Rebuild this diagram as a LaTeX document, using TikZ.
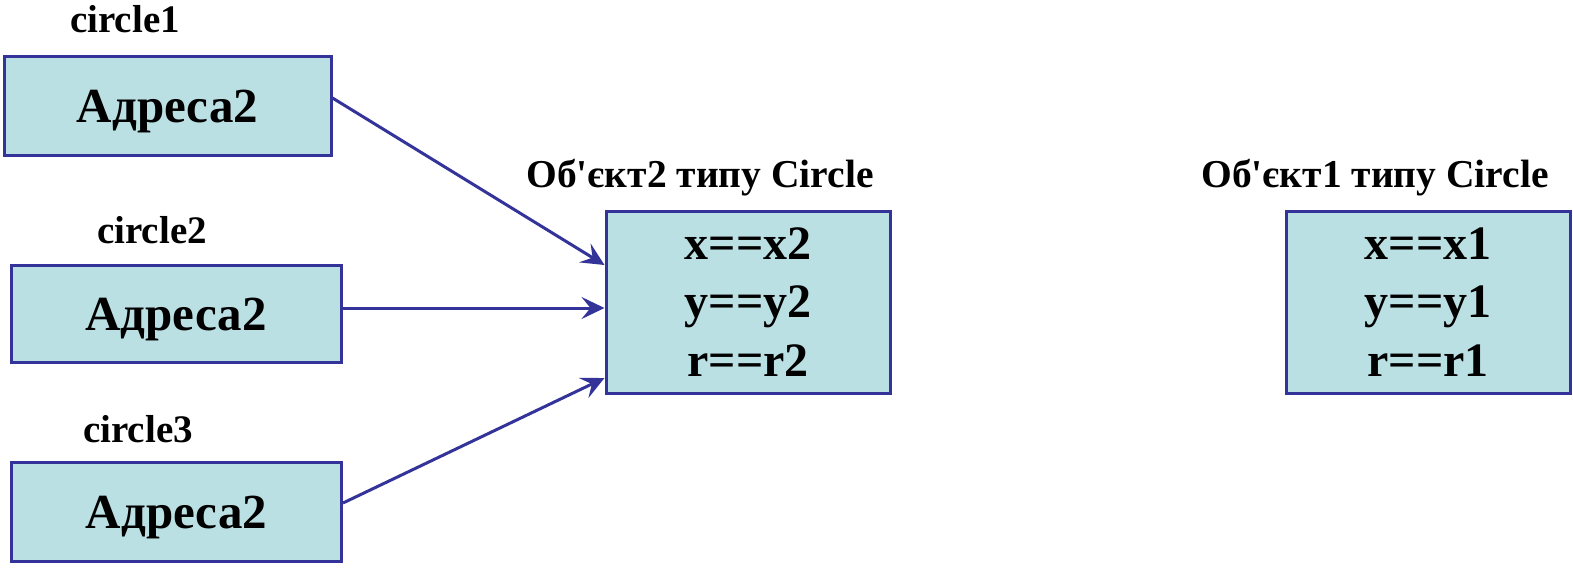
\documentclass[tikz,border=0pt]{standalone}
\usepackage{fontspec}
\setmainfont{Liberation Serif}
\usetikzlibrary{arrows.meta}
\definecolor{edge}{HTML}{333399}
\definecolor{fillc}{HTML}{BBE0E3}
\tikzset{
  addrbox/.style={draw=edge, fill=fillc, line width=3pt, minimum width=#1, inner sep=0pt,
    text height=33pt, text depth=0pt, font=\bfseries\fontsize{49}{52}\selectfont},
  objbox/.style={draw=edge, fill=fillc, line width=3pt, minimum width=284pt, minimum height=182pt,
    inner sep=0pt, align=center, font=\bfseries\fontsize{48}{58.5}\selectfont},
  lbl/.style={inner sep=0pt, anchor=base, font=\bfseries\fontsize{39}{42}\selectfont},
  titl/.style={inner sep=0pt, anchor=base, font=\bfseries\fontsize{39.5}{42}\selectfont},
  link/.style={draw=edge, line width=3pt, -{Stealth[length=23pt,width=22pt,inset=9pt]}}
}
\begin{document}
\begin{tikzpicture}[x=1pt,y=-1pt]
\useasboundingbox (0,0) rectangle (1573,568);
\node[addrbox=327pt, minimum height=99pt] (b1) at (167.5,105.5) {Адреса2};
\node[addrbox=330pt, minimum height=97pt] (b2) at (176,313.5) {Адреса2};
\node[addrbox=330pt, minimum height=99pt] (b3) at (176.5,511.5) {Адреса2};
\node[lbl] (l1) at (125,32) {circle1};
\node[lbl] (l2) at (152,243) {circle2};
\node[lbl] (l3) at (138,442) {circle3};
\node[objbox] (o2) at (748,302) {x==x2\\y==y2\\r==r2};
\node[objbox] (o1) at (1428,302) {x==x1\\y==y1\\r==r1};
\node[titl] (t2) at (700,187) {Об\textquotesingle єкт2 типу Circle};
\node[titl] (t1) at (1375,187) {Об\textquotesingle єкт1 типу Circle};
\draw[link] ([yshift=7.5pt]b1.east) -- ([yshift=37pt]o2.west);
\draw[link] ([yshift=5.5pt]b2.east) -- ([yshift=-6pt]o2.west);
\draw[link] ([yshift=8.5pt]b3.east) -- ([yshift=-76pt]o2.west);
\end{tikzpicture}
\end{document}
